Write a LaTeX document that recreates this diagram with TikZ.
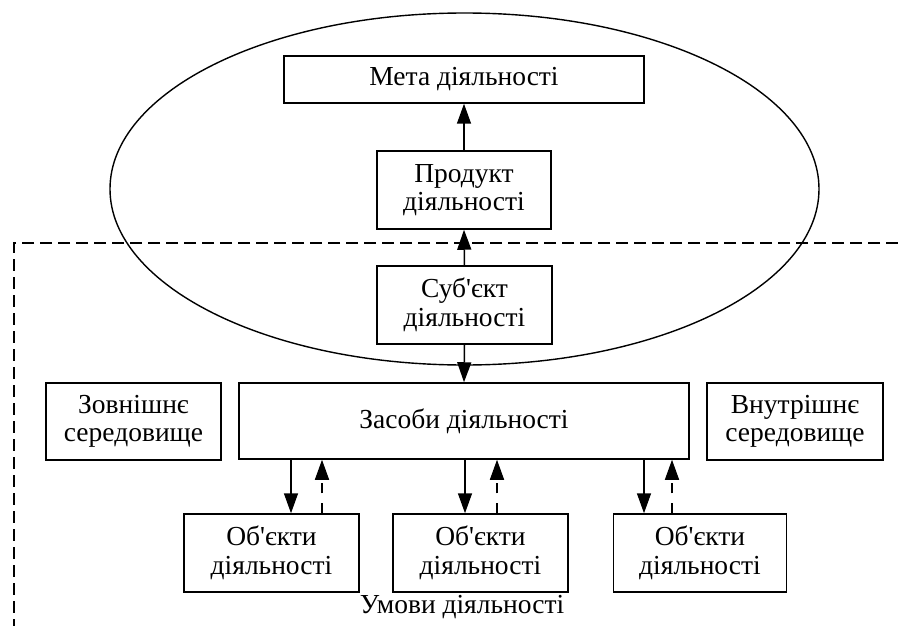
\documentclass[tikz,border=0pt]{standalone}
\usepackage{fontspec}
\setmainfont{Liberation Serif}
\usetikzlibrary{arrows.meta}
\begin{document}
\begin{tikzpicture}[x=1pt,y=-1pt,
  box/.style={draw,line width=1.5pt,fill=white,align=center,inner sep=0pt,
    font=\fontsize{27.5}{28.5}\selectfont},
  conn/.style={line width=1.5pt,-{Triangle[length=20pt,width=14pt]}},
  dconn/.style={conn,dash pattern=on 10pt off 10pt},
  frame/.style={line width=1.4pt,dash pattern=on 12pt off 6pt}]
\useasboundingbox (0,0) rectangle (898,626);
\draw[line width=1.4pt] (464.5,189) ellipse [x radius=354.5, y radius=176];
\draw[frame] (898,243) -- (14,243) -- (14,626);
\node[box,minimum width=360pt,minimum height=47pt] (meta) at (464,79.5) {Мета діяльності};
\node[box,minimum width=174pt,minimum height=78pt] (prod) at (464,190) {Продукт\\діяльності};
\node[box,minimum width=175pt,minimum height=78pt] (subj) at (464.5,305) {Суб\textquotesingle єкт\\діяльності};
\node[box,minimum width=450pt,minimum height=76pt] (means) at (464,421) {Засоби діяльності};
\node[box,minimum width=175pt,minimum height=77pt] (ext) at (133.5,421.5) {Зовнішнє\\середовище};
\node[box,minimum width=176pt,minimum height=77pt] (int) at (795,421.5) {Внутрішнє\\середовище};
\node[box,minimum width=175pt,minimum height=78pt] (o1) at (271.5,553) {Об\textquotesingle єкти\\діяльності};
\node[box,minimum width=175pt,minimum height=78pt] (o2) at (480.5,553) {Об\textquotesingle єкти\\діяльності};
\node[box,minimum width=173pt,minimum height=78pt] (o3) at (700,553) {Об\textquotesingle єкти\\діяльності};
\node[font=\fontsize{27.5}{28.5}\selectfont,inner sep=0pt] (cond) at (462,607) {Умови діяльності};
\draw[conn] (prod.north) -- (meta.south);
\draw[conn] (subj.north) -- (prod.south);
\draw[conn] (subj.south) -- (means.north);
\coordinate (d1) at (291,0);
\coordinate (u1) at (322,0);
\coordinate (d2) at (465,0);
\coordinate (u2) at (497,0);
\coordinate (d3) at (644,0);
\coordinate (u3) at (672,0);
\draw[conn] (means.south -| d1) -- (o1.north -| d1);
\draw[dconn] (o1.north -| u1) -- (means.south -| u1);
\draw[conn] (means.south -| d2) -- (o2.north -| d2);
\draw[dconn] (o2.north -| u2) -- (means.south -| u2);
\draw[conn] (means.south -| d3) -- (o3.north -| d3);
\draw[dconn] (o3.north -| u3) -- (means.south -| u3);
\end{tikzpicture}
\end{document}
